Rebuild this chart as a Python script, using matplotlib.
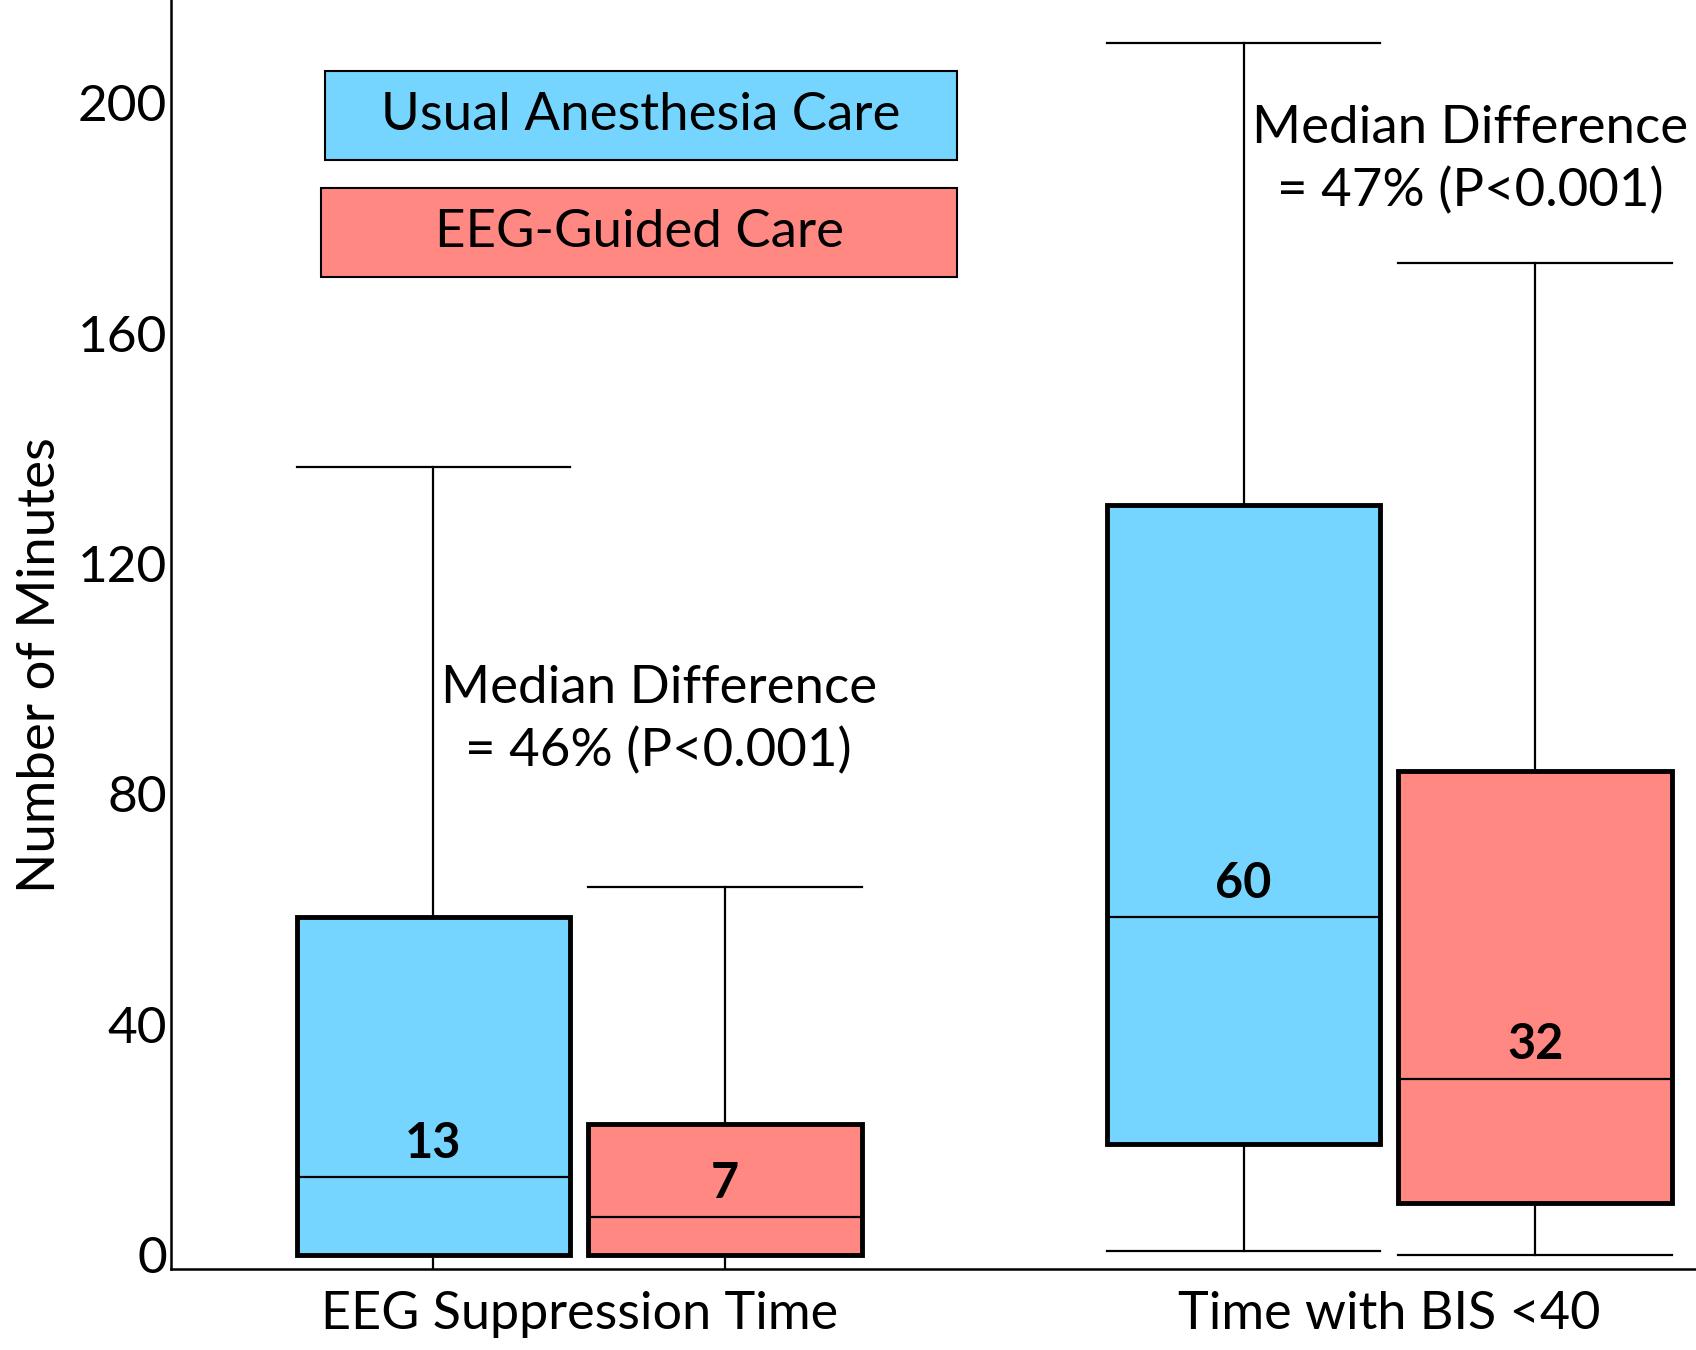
import matplotlib.pyplot as plt
from matplotlib.patches import Rectangle

# datos (minutos)
groups = ["EEG Suppression Time", "Time with BIS <40"]
series = ["Usual Anesthesia Care", "EEG-Guided Care"]
colors = ["#76D5FF", "#FF8883"]

whis_low = [0, 0, 0.6, 0]
q1 = [0, 0, 19.3, 9.0]
medians = [13.5, 6.6, 58.6, 30.6]
q3 = [58.6, 22.7, 130.1, 83.9]
whis_high = [136.7, 63.8, 210.3, 172.2]
median_labels = ["13", "7", "60", "32"]

diff_texts = ["Median Difference\n= 46% (P<0.001)", "Median Difference\n= 47% (P<0.001)"]

plt.rcParams['font.family'] = ['Lato', 'DejaVu Sans']

fig = plt.figure(figsize=(16.96, 13.5), dpi=100)
ax = fig.add_axes([0.1008, 0.0601, 0.8992, 0.9399])

offset = 0.18
width = 0.338
positions = [1 - offset, 1 + offset, 2 - offset, 2 + offset]

stats = []
for i in range(4):
    stats.append({"whislo": whis_low[i], "q1": q1[i], "med": medians[i],
                  "q3": q3[i], "whishi": whis_high[i], "fliers": []})

bp = ax.bxp(stats, positions=positions, widths=width, capwidths=width,
            patch_artist=True, showfliers=False,
            boxprops=dict(linewidth=3.5, edgecolor="black"),
            medianprops=dict(color="black", linewidth=1.6),
            whiskerprops=dict(color="black", linewidth=1.6),
            capprops=dict(color="black", linewidth=1.6))
for i, box in enumerate(bp["boxes"]):
    box.set_facecolor(colors[i % 2])
    box.set_zorder(3)
for m in bp["medians"]:
    m.set_zorder(4)

# etiquetas de la mediana
for i in range(4):
    ax.annotate(median_labels[i], (positions[i], medians[i]), xytext=(0, 8),
                textcoords="offset points", ha="center", va="bottom",
                fontsize=35, fontweight="bold", zorder=5)

# textos de diferencia de medianas
ax.text(1.098, 92.8, diff_texts[0], ha="center", va="center", fontsize=38, linespacing=1.4)
ax.text(2.0995, 190, diff_texts[1], ha="center", va="center", fontsize=38, linespacing=1.4)

# leyenda dibujada como cajas
ax.add_patch(Rectangle((0.6856, 190.0), 0.781, 15.4, facecolor=colors[0], edgecolor="black", linewidth=1.5))
ax.text(0.6856 + 0.781 / 2, 197.7, series[0], ha="center", va="center", fontsize=38)
ax.add_patch(Rectangle((0.6816, 169.8), 0.785, 15.4, facecolor=colors[1], edgecolor="black", linewidth=1.5))
ax.text(0.6816 + 0.785 / 2, 177.5, series[1], ha="center", va="center", fontsize=38)

ax.set_xlim(0.496, 2.3785)
ax.set_ylim(-2.44, 217.8)
ax.set_yticks([0, 40, 80, 120, 160, 200])
ax.set_xticks([1, 2])
ax.set_xticklabels(groups)
ax.set_xticks(positions[:2], minor=True)
ax.tick_params(axis="y", length=0, pad=3, labelsize=37)
ax.tick_params(axis="x", which="major", length=0, pad=16, labelsize=37.5)
ax.tick_params(axis="x", which="minor", direction="in", length=8, width=1.6)
ax.set_ylabel("Number of Minutes", fontsize=38, va="center")
ax.yaxis.set_label_coords(-0.0858, 0.476)

ax.spines["top"].set_visible(False)
ax.spines["right"].set_visible(False)
ax.spines["left"].set_linewidth(1.8)
ax.spines["bottom"].set_linewidth(1.8)

plt.savefig("out.png", dpi=100)
plt.close()
